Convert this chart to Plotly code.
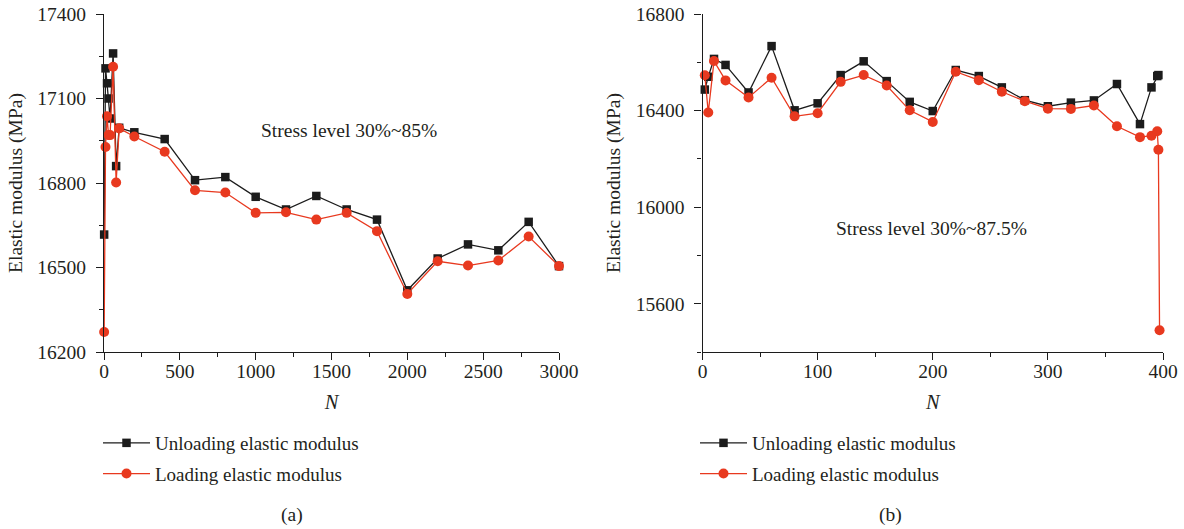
import plotly.graph_objects as go

# ---- Panel (a): stress level 30%~85% ----
n_a = [1, 10, 20, 30, 40, 60, 80, 100, 200, 400, 600, 800, 1000, 1200, 1400,
       1600, 1800, 2000, 2200, 2400, 2600, 2800, 3000]
unload_a = [16617, 17207, 17154, 17100, 17029, 17260, 16860, 16996, 16980, 16956,
            16810, 16821, 16751, 16706, 16754, 16706, 16670, 16419, 16532, 16582,
            16561, 16662, 16505]
load_a = [16271, 16928, 17037, 16970, 16970, 17213, 16802, 16994, 16965, 16911,
          16774, 16766, 16694, 16696, 16670, 16694, 16629, 16406, 16522, 16507,
          16525, 16610, 16505]

# ---- Panel (b): stress level 30%~87.5% ----
n_b_unload = [2, 5, 10, 20, 40, 60, 80, 100, 120, 140, 160, 180, 200, 220, 240,
              260, 280, 300, 320, 340, 360, 380, 390, 395, 396]
unload_b = [16487, 16540, 16614, 16589, 16475, 16667, 16401, 16430, 16547, 16604,
            16522, 16436, 16398, 16568, 16543, 16496, 16443, 16418, 16433, 16442,
            16510, 16344, 16496, 16543, 16547]
n_b_load = [2, 5, 10, 20, 40, 60, 80, 100, 120, 140, 160, 180, 200, 220, 240,
            260, 280, 300, 320, 340, 360, 380, 390, 395, 396, 397]
load_b = [16546, 16392, 16605, 16525, 16454, 16536, 16376, 16389, 16519, 16547,
          16504, 16401, 16353, 16561, 16526, 16478, 16439, 16408, 16407, 16421,
          16335, 16290, 16296, 16314, 16238, 15490]

series_names = ["Unloading elastic modulus", "Loading elastic modulus"]
panel_labels = ["(a)", "(b)"]
notes = ["Stress level 30%~85%", "Stress level 30%~87.5%"]

BLACK = "#1c1c1c"
RED = "#e8391f"
TEXT = "#231f20"
FONT = "Liberation Serif"
FS = 19.5

fig = go.Figure()

def add_pair(n_u, y_u, n_l, y_l, xa, ya, legend):
    fig.add_trace(go.Scatter(
        x=n_u, y=y_u, mode="lines+markers", name=series_names[0],
        line=dict(color=BLACK, width=1.3),
        marker=dict(symbol="square", size=8.5, color=BLACK),
        xaxis=xa, yaxis=ya, legend=legend, legendgroup=legend + "-u",
        cliponaxis=False))
    fig.add_trace(go.Scatter(
        x=n_l, y=y_l, mode="lines+markers", name=series_names[1],
        line=dict(color=RED, width=1.3),
        marker=dict(symbol="circle", size=10, color=RED),
        xaxis=xa, yaxis=ya, legend=legend, legendgroup=legend + "-l",
        cliponaxis=False))

add_pair(n_a, unload_a, n_a, load_a, "x", "y", "legend")
add_pair(n_b_unload, unload_b, n_b_load, load_b, "x2", "y2", "legend2")

W, H = 1184, 529
def fx(px):
    return px / W
def fy(py):
    return 1 - py / H

axis_common = dict(
    showline=True, linecolor=BLACK, linewidth=1.3, mirror=False,
    showgrid=False, zeroline=False, tickformat="d", automargin=False,
    ticks="outside", ticklen=7, tickwidth=1.2, tickcolor=BLACK,
    tickfont=dict(family=FONT, size=FS, color=TEXT),
)

def minor(step):
    return dict(dtick=step, ticks="outside", ticklen=4, tickwidth=1.2, tickcolor=BLACK)

def x_title():
    return dict(text="<i>N</i>", standoff=14, font=dict(family=FONT, size=FS + 1, color=TEXT))

def y_title():
    return dict(text="Elastic modulus (MPa)", standoff=9,
                font=dict(family=FONT, size=FS, color=TEXT))

legend_common = dict(xanchor="left", yanchor="top", bgcolor="rgba(0,0,0,0)",
                     font=dict(family=FONT, size=19, color=TEXT),
                     itemwidth=47, tracegroupgap=3)

fig.update_layout(
    width=W, height=H,
    margin=dict(l=0, r=0, t=0, b=0, pad=0, autoexpand=False),
    paper_bgcolor="white", plot_bgcolor="white",
    font=dict(family=FONT, size=FS, color=TEXT),
    xaxis=dict(domain=[fx(104), fx(559)], range=[0, 3000], dtick=500, minor=minor(250),
               title=x_title(), ticklabelstandoff=-6, anchor="y", **axis_common),
    yaxis=dict(domain=[fy(352), fy(14)], range=[16200, 17400], dtick=300, minor=minor(150),
               title=y_title(), ticklabelstandoff=6, anchor="x", **axis_common),
    xaxis2=dict(domain=[fx(702.5), fx(1163)], range=[0, 400], dtick=100, minor=minor(50),
                title=x_title(), ticklabelstandoff=-6, anchor="y2", **axis_common),
    yaxis2=dict(domain=[fy(352), fy(14)], range=[15400, 16800], dtick=400, minor=minor(200),
                title=y_title(), ticklabelstandoff=6, anchor="x2", **axis_common),
    legend=dict(x=fx(98), y=fy(424), **legend_common),
    legend2=dict(x=fx(695), y=fy(424), **legend_common),
    showlegend=True,
)

# panel captions
for label, cx in zip(panel_labels, [fx(292), fx(890)]):
    fig.add_annotation(text=label, x=cx, y=fy(515), xref="paper", yref="paper",
                       xanchor="center", yanchor="middle", showarrow=False,
                       font=dict(family=FONT, size=FS, color=TEXT))

# stress level notes inside each panel
fig.add_annotation(text=notes[0], x=1615, y=16988, xref="x", yref="y",
                   showarrow=False, font=dict(family=FONT, size=FS, color=TEXT))
fig.add_annotation(text=notes[1], x=199, y=15910, xref="x2", yref="y2",
                   showarrow=False, font=dict(family=FONT, size=FS, color=TEXT))

fig.write_html("out.html")
